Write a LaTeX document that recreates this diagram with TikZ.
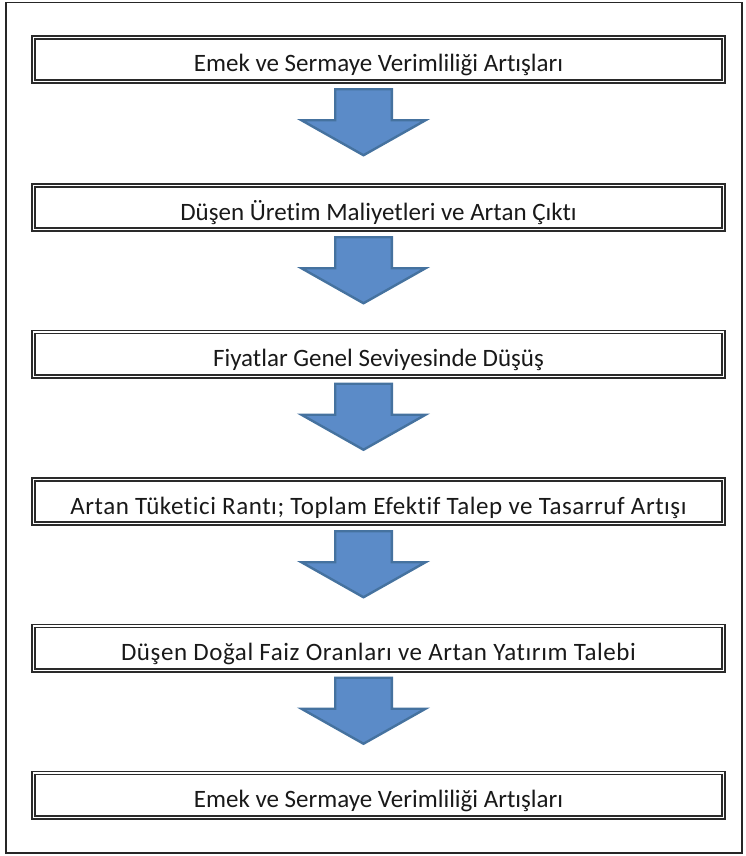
\documentclass[tikz,border=0pt]{standalone}
\usepackage{fontspec}
\setmainfont{Carlito}[Ligatures=NoCommon]
\newfontfamily\widecarlito{Carlito}[Ligatures=NoCommon,LetterSpace=2.2]
\newfontfamily\midcarlito{Carlito}[Ligatures=NoCommon,LetterSpace=2.3]
\definecolor{arrowfill}{HTML}{5B8BC8}
\definecolor{arrowedge}{HTML}{45729F}
\definecolor{boxline}{HTML}{2A2A2A}
\begin{document}
\begin{tikzpicture}[x=1pt,y=-1pt,
  stagebox/.style={draw=boxline, double=white, double distance=1.3pt, line width=1.7pt,
    minimum width=690.4pt, minimum height=44.3pt, inner sep=0pt, outer sep=0pt,
    text height=25pt, text depth=0pt,
    font=\fontsize{25}{30}\selectfont, text=black!90},
  blockarrow/.style={fill=arrowfill, draw=arrowedge, line width=2.4pt, line join=miter}]
\useasboundingbox (0,0) rectangle (745,856);
\draw[line width=1.3pt, black!85] (6,2.5) rectangle (742,853);
\node[stagebox] (b1) at (378.5,59.5) {Emek ve Sermaye Verimliliği Artışları};
\node[stagebox] (b2) at (378.5,207.5) {Düşen Üretim Maliyetleri ve Artan Çıktı};
\node[stagebox] (b3) at (378.5,354) {Fiyatlar Genel Seviyesinde Düşüş};
\node[stagebox] (b4) at (378.5,501.5) {\widecarlito Artan Tüketici Rantı; Toplam Efektif Talep ve Tasarruf Artışı};
\node[stagebox] (b5) at (378.5,648) {\midcarlito Düşen Doğal Faiz Oranları ve Artan Yatırım Talebi};
\node[stagebox] (b6) at (378.5,795) {Emek ve Sermaye Verimliliği Artışları};
\foreach \i in {1,...,5}{
  \draw[blockarrow] ([xshift=-43.3pt,yshift=-7.6pt]b\i.south) -- ++(0,31) -- ++(-33.7,0)
    -- ++(62,35) -- ++(62,-35) -- ++(-33.7,0) -- ++(0,-31) -- cycle;
}
\end{tikzpicture}
\end{document}
